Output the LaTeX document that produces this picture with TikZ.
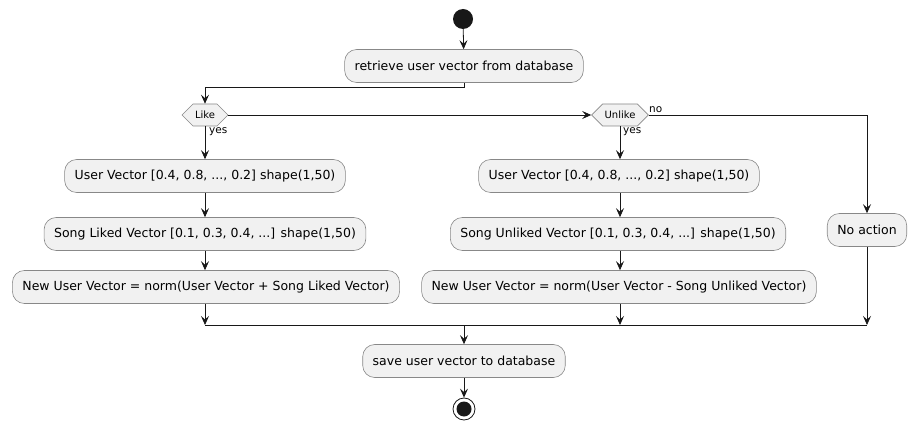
\documentclass[tikz,border=0pt]{standalone}
\usepackage{fontspec}
\setmainfont{DejaVu Sans}
\usetikzlibrary{arrows.meta,shapes.symbols}
\definecolor{boxfill}{HTML}{F1F1F1}
\definecolor{boxline}{HTML}{888888}
\definecolor{ink}{HTML}{181818}
\tikzset{
  act/.style={draw=boxline, fill=boxfill, rounded corners=12pt, line width=0.6pt,
    minimum height=33pt, inner xsep=10pt, font=\fontsize{12.5}{14}\selectfont, text=black},
  dec/.style={draw=boxline, fill=boxfill, signal, signal to=east and west, signal pointer angle=90,
    line width=0.6pt, minimum height=22pt, inner xsep=2pt, font=\fontsize{10}{12}\selectfont},
  arr/.style={draw=ink, line width=0.8pt, -{Stealth[length=9pt,width=8pt,inset=3.5pt]}},
  ln/.style={draw=ink, line width=0.8pt},
  lbl/.style={font=\fontsize{10.5}{12}\selectfont, inner sep=0pt}
}
\begin{document}
\begin{tikzpicture}[x=1pt,y=-1pt]
\useasboundingbox (0,0) rectangle (917,430);
\node[circle, fill=ink, minimum size=20pt, inner sep=0pt] (start) at (463,19) {};
\node[act] (retrieve) at (464,66) {retrieve user vector from database};
\node[dec] (like) at (205,115) {Like};
\node[dec] (unlike) at (620,115) {Unlike};
\node[act] (l1) at (205,176) {User Vector [0.4, 0.8, ..., 0.2] shape(1,50)};
\node[act] (l2) at (205,234) {Song Liked Vector [0.1, 0.3, 0.4, ...] shape(1,50)};
\node[act] (l3) at (206,287) {New User Vector = norm(User Vector + Song Liked Vector)};
\node[act] (u1) at (619,176) {User Vector [0.4, 0.8, ..., 0.2] shape(1,50)};
\node[act] (u2) at (618,234) {Song Unliked Vector [0.1, 0.3, 0.4, ...] shape(1,50)};
\node[act] (u3) at (619,287) {New User Vector = norm(User Vector - Song Unliked Vector)};
\node[act] (noact) at (867,230) {No action};
\node[act] (save) at (464,361) {save user vector to database};
\node[circle, draw=ink, fill=white, line width=0.8pt, minimum size=22pt, inner sep=0pt] (stop) at (464,409) {};
\fill[ink] (stop.center) circle (7.5pt);
\coordinate (m1) at (205,325);
\coordinate (m2) at (619,325);
\coordinate (m3) at (867,325);
\coordinate (mc) at (464,325);
\node[lbl, anchor=north west] (yes1) at (209,127) {yes};
\node[lbl, anchor=north west] (yes2) at (623,127) {yes};
\node[lbl, anchor=south west] (no1) at (649,113) {no};
\draw[arr] (start) -- (retrieve);
\draw[arr] (retrieve.south) -- ++(0,5) -| (like.north);
\draw[arr] (like.east) -- (unlike.west);
\draw[arr] (unlike.east) -| (noact.north);
\draw[arr] (like.south) -- (l1.north -| like.south);
\draw[arr] (l1.south -| like.south) -- (l2.north -| like.south);
\draw[arr] (l2.south -| like.south) -- (l3.north -| like.south);
\draw[arr] (l3.south -| like.south) -- (m1);
\draw[arr] (unlike.south) -- (u1.north -| unlike.south);
\draw[arr] (u1.south -| unlike.south) -- (u2.north -| unlike.south);
\draw[arr] (u2.south -| unlike.south) -- (u3.north -| unlike.south);
\draw[arr] (u3.south -| unlike.south) -- (m2 -| unlike.south);
\draw[arr] (noact) -- (m3);
\draw[ln] (m1) -- (m3);
\draw[arr] (mc) -- (save);
\draw[arr] (save) -- (stop);
\end{tikzpicture}
\end{document}
